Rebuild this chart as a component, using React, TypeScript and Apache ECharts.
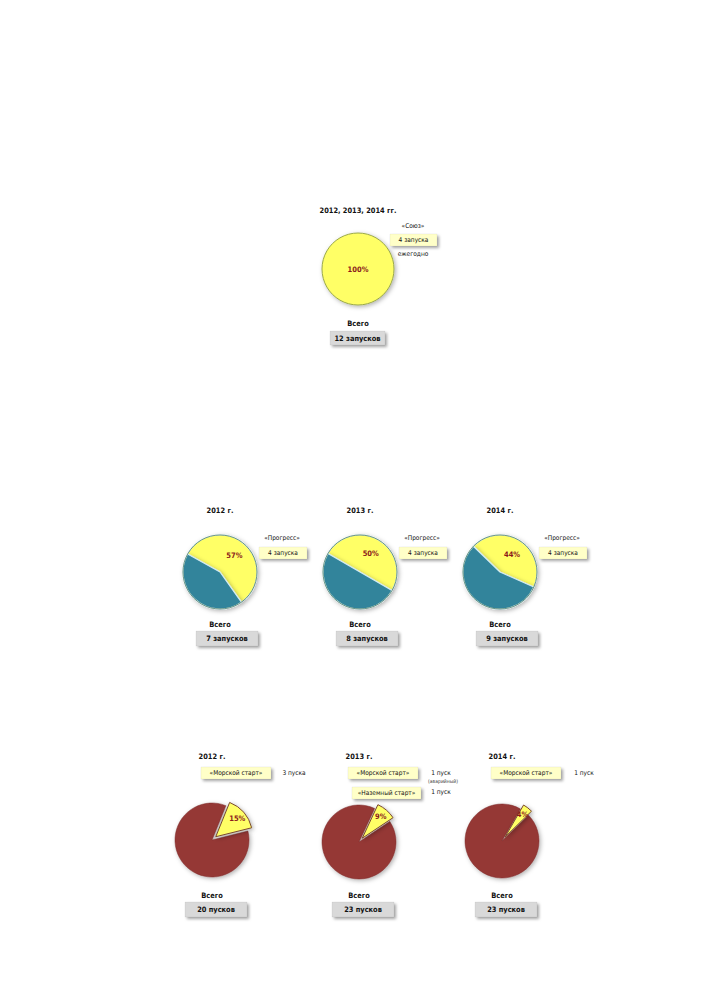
import React, { useEffect, useRef } from "react";
import * as echarts from "echarts";

// ---- data ----
const topTitle = "2012, 2013, 2014 гг.";
const topName = "«Союз»";
const topValue = [12];
const topPerYear = "4 запуска";
const topNote = "ежегодно";
const topTotal = "12 запусков";

const midYears = ["2012 г.", "2013 г.", "2014 г."];
const midName = "«Прогресс»";
const midProgress = [4, 4, 4];
const midOther = [3, 4, 5];
const midProgressText = ["4 запуска", "4 запуска", "4 запуска"];
const midTotals = ["7 запусков", "8 запусков", "9 запусков"];

const botYears = ["2012 г.", "2013 г.", "2014 г."];
const botSea = [3, 1, 1];
const botGround = [0, 1, 0];
const botOther = [17, 21, 22];
const botSeaText = ["3 пуска", "1 пуск", "1 пуск"];
const botGroundText = ["", "1 пуск", ""];
const botTotals = ["20 пусков", "23 пусков", "23 пусков"];
const seaName = "«Морской старт»";
const groundName = "«Наземный старт»";
const failNote = "(аварийный)";

// ---- layout ----
const FONT = "'Liberation Sans Narrow', 'DejaVu Sans Condensed', 'Roboto', sans-serif";
const topCenter: [number, number] = [358, 269];
const midCenters: [number, number][] = [[220, 572], [360, 572], [500, 572]];
const midStart = [151, 150, 136];
const botCenters: [number, number][] = [[212, 840], [359, 842], [502, 841]];
const botStart = [68, 65, 60];
const R = 37;

const YELLOW = "#ffff66";
const TEAL = "#31849b";
const MAROON = "#953735";
const LBL = "#8b1a1a";

function txt(x: number, y: number, text: string, size = 7.4, weight = "bold", fill = "#111", align = "center") {
  return {
    type: "text",
    x,
    y,
    silent: true,
    style: {
      text,
      font: `${weight} ${size}px ${FONT}`,
      fill,
      align,
      verticalAlign: "middle",
      textAlign: align,
      textVerticalAlign: "middle",
    },
    z: 10,
  };
}

function box(x: number, y: number, w: number, h: number, fill: string) {
  return {
    type: "rect",
    silent: true,
    shape: { x, y, width: w, height: h },
    style: {
      fill,
      stroke: "rgba(0,0,0,0.08)",
      lineWidth: 0.5,
      shadowBlur: 3,
      shadowOffsetX: 2,
      shadowOffsetY: 2,
      shadowColor: "rgba(0,0,0,0.35)",
    },
    z: 5,
  };
}

const pctLabel = {
  show: true,
  position: "inner",
  formatter: "{d}%",
  color: LBL,
  fontFamily: FONT,
  fontWeight: "bold",
  fontSize: 7.5,
};

const shadow = {
  shadowBlur: 4,
  shadowOffsetX: 1.5,
  shadowOffsetY: 1.5,
  shadowColor: "rgba(0,0,0,0.3)",
};

export default function App() {
  const ref = useRef<HTMLDivElement>(null);
  useEffect(() => {
    if (!ref.current) return;
    const chart = echarts.init(ref.current, undefined, { renderer: "svg" });

    const series: any[] = [];

    // top pie
    series.push({
      type: "pie",
      center: topCenter,
      radius: R - 1,
      percentPrecision: 0,
      silent: true,
      labelLine: { show: false },
      itemStyle: { borderColor: "#9aa84a", borderWidth: 1, ...shadow },
      data: [
        {
          name: topName,
          value: topValue[0],
          itemStyle: { color: YELLOW },
          label: { ...pctLabel, position: "center" },
        },
      ],
    });

    // middle pies
    midCenters.forEach((c, i) => {
      series.push({
        type: "pie",
        center: c,
        radius: R,
        startAngle: midStart[i],
        percentPrecision: 0,
        silent: true,
        labelLine: { show: false },
        itemStyle: { borderColor: "#d6ecf0", borderWidth: 1.2, ...shadow },
        data: [
          { name: midName, value: midProgress[i], itemStyle: { color: YELLOW }, label: pctLabel },
          { name: "other", value: midOther[i], itemStyle: { color: TEAL }, label: { show: false } },
        ],
      });
      series.push({
        type: "pie",
        center: c,
        radius: R,
        silent: true,
        z: 3,
        label: { show: false },
        labelLine: { show: false },
        itemStyle: { color: "rgba(0,0,0,0)", borderColor: "#4f7f6a", borderWidth: 0.8 },
        data: [{ name: "ring", value: 1 }],
      });
    });

    // bottom pies
    botCenters.forEach((c, i) => {
      const launches = botSea[i] + botGround[i];
      series.push({
        type: "pie",
        center: c,
        radius: R,
        startAngle: botStart[i],
        percentPrecision: 0,
        silent: true,
        selectedMode: "multiple",
        selectedOffset: 5,
        label: { show: false },
        labelLine: { show: false },
        itemStyle: { ...shadow },
        data: [
          {
            name: "launch",
            value: launches,
            selected: true,
            itemStyle: { color: YELLOW, borderColor: "#7a4a2e", borderWidth: 1 },
          },
          {
            name: "other",
            value: botOther[i],
            itemStyle: { color: MAROON, borderColor: "#7d2d2b", borderWidth: 0.5 },
          },
        ],
      });
      // transparent label ring (places the percent label further out)
      series.push({
        type: "pie",
        center: c,
        radius: [14, R],
        startAngle: botStart[i],
        percentPrecision: 0,
        silent: true,
        z: 4,
        selectedMode: "multiple",
        selectedOffset: 5,
        labelLine: { show: false },
        itemStyle: { color: "rgba(0,0,0,0)", borderWidth: 0 },
        emphasis: { disabled: true },
        data: [
          { name: "launch", value: launches, selected: true, label: pctLabel },
          { name: "other", value: botOther[i], label: { show: false } },
        ],
      });
    });

    const graphics: any[] = [];
    // top block
    const [tx, ty] = topCenter;
    graphics.push(txt(tx, ty - 59, topTitle));
    graphics.push(txt(tx + 55, ty - 43, topName, 6.5, "normal"));
    graphics.push(box(tx + 32, ty - 35, 47, 12, "#ffffc8"));
    graphics.push(txt(tx + 55.5, ty - 29, topPerYear, 6.5, "normal"));
    graphics.push(txt(tx + 55, ty - 15, topNote, 6.5, "normal"));
    graphics.push(txt(tx, ty + 54, "Всего"));
    graphics.push(box(tx - 28, ty + 62, 55, 14, "#d9d9d9"));
    graphics.push(txt(tx - 0.5, ty + 69, topTotal));

    midCenters.forEach(([cx, cy], i) => {
      graphics.push(txt(cx, cy - 62, midYears[i]));
      graphics.push(txt(cx + 62, cy - 34, midName, 6.5, "normal"));
      graphics.push(box(cx + 39, cy - 25, 48, 12, "#ffffc8"));
      graphics.push(txt(cx + 63, cy - 19, midProgressText[i], 6.5, "normal"));
      graphics.push(txt(cx, cy + 52, "Всего"));
      graphics.push(box(cx - 24, cy + 59, 62, 15, "#d9d9d9"));
      graphics.push(txt(cx + 7, cy + 66.5, midTotals[i]));
    });

    botCenters.forEach(([cx, cy], i) => {
      graphics.push(txt(cx, 756, botYears[i]));
      graphics.push(box(cx - 11, 767, 70, 12, "#ffffc8"));
      graphics.push(txt(cx + 24, 773, seaName, 6.5, "normal"));
      graphics.push(txt(cx + 82, 773, botSeaText[i], 6.5, "normal"));
      if (botGround[i] > 0) {
        graphics.push(txt(cx + 84, 780.5, failNote, 5, "normal", "#333"));
        graphics.push(box(cx - 7, 787, 69, 12, "#ffffc8"));
        graphics.push(txt(cx + 27.5, 793, groundName, 6.5, "normal"));
        graphics.push(txt(cx + 82, 792, botGroundText[i], 6.5, "normal"));
      }
      graphics.push(txt(cx, 895, "Всего"));
      graphics.push(box(cx - 27, 902, 62, 15, "#d9d9d9"));
      graphics.push(txt(cx + 4, 909.5, botTotals[i]));
    });

    chart.setOption({
      animation: false,
      backgroundColor: "#ffffff",
      series,
      graphic: graphics,
    });
    return () => chart.dispose();
  }, []);

  return (
    <div
      ref={ref}
      style={{ position: "absolute", left: 0, top: 0, width: 706, height: 999 }}
    />
  );
}
